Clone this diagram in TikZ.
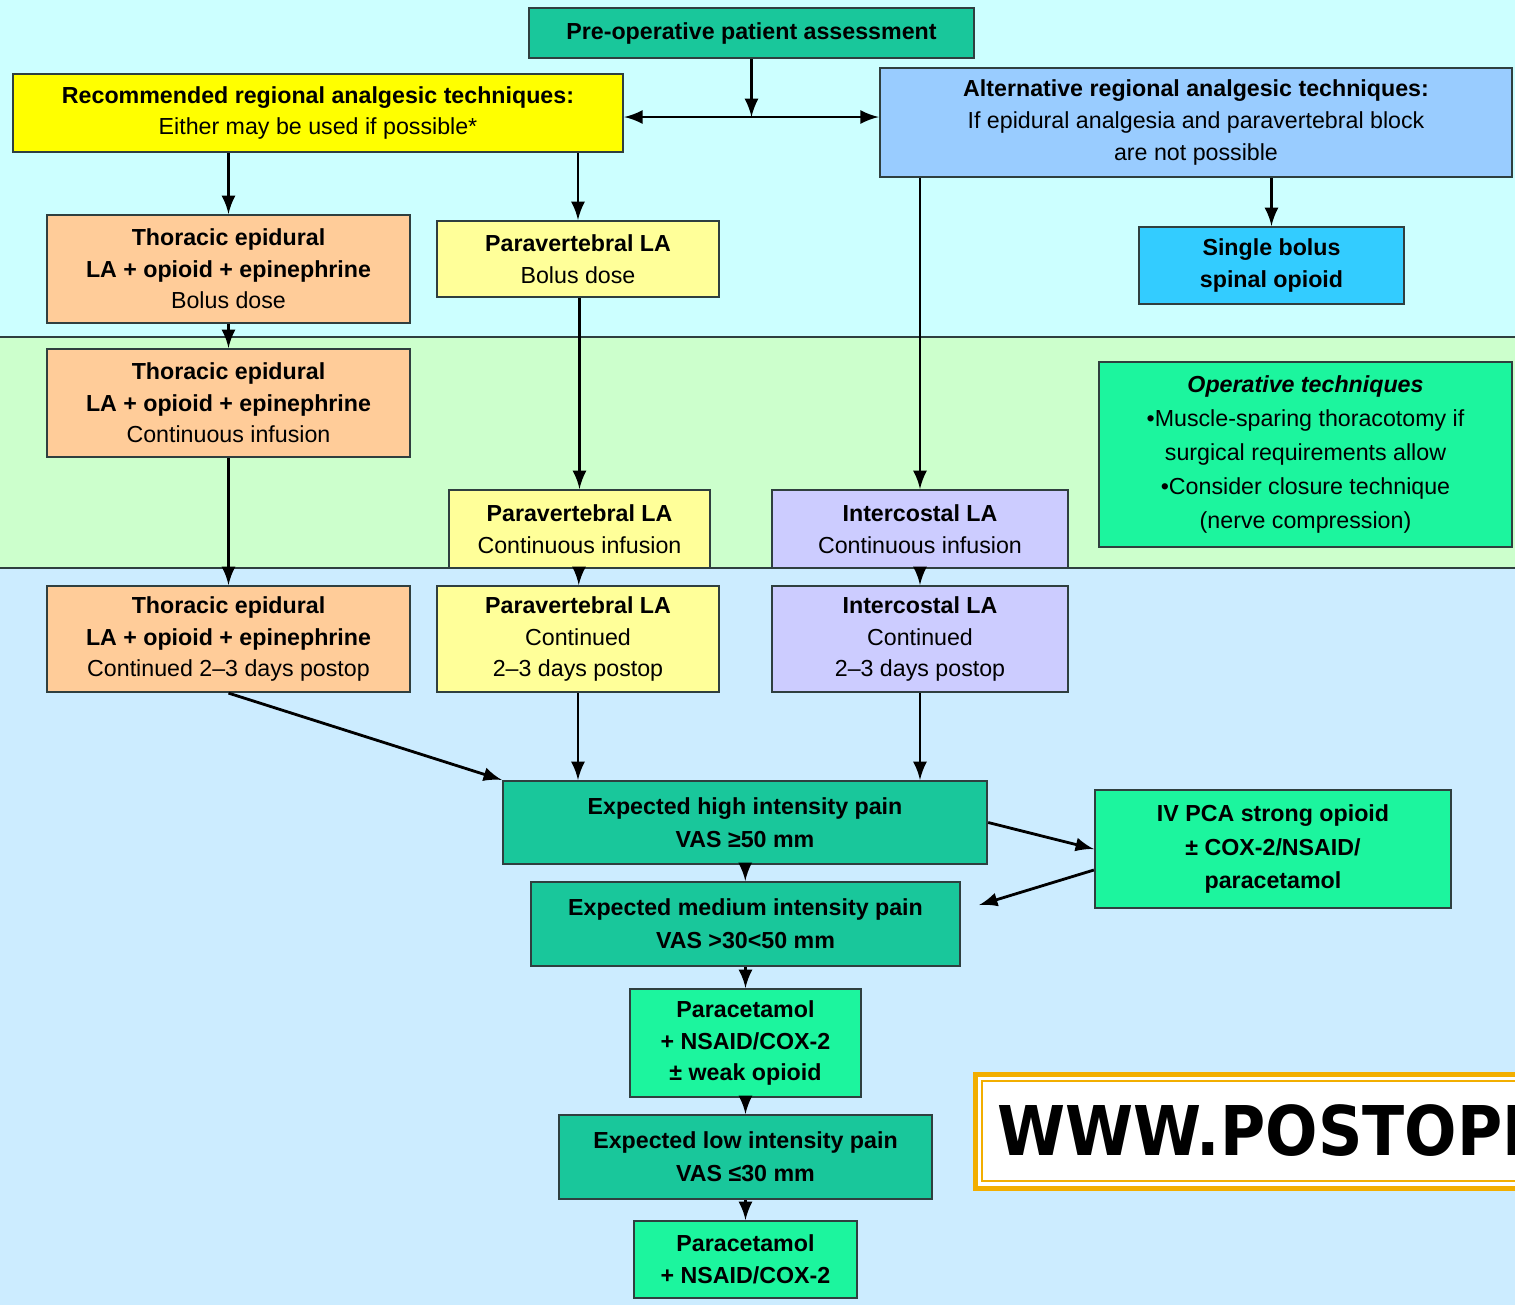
\documentclass[tikz,border=0pt]{standalone}
\usepackage{fontspec}
\setmainfont{Liberation Sans}
\newfontfamily\sitefont[FakeStretch=0.9]{DejaVu Sans}
\usetikzlibrary{arrows}
\definecolor{bgtop}{HTML}{CCFFFF}
\definecolor{bgmid}{HTML}{CCFFCC}
\definecolor{bgbot}{HTML}{CCECFF}
\definecolor{teal}{HTML}{19C79B}
\definecolor{mint}{HTML}{1CF59E}
\definecolor{recyellow}{HTML}{FFFF00}
\definecolor{paleyellow}{HTML}{FFFF99}
\definecolor{peach}{HTML}{FFCC99}
\definecolor{lavender}{HTML}{CCCCFF}
\definecolor{altblue}{HTML}{99CCFF}
\definecolor{skyblue}{HTML}{33CCFF}
\definecolor{boxline}{HTML}{2F3F3F}
\definecolor{siteorange}{HTML}{F2AE00}

\begin{document}
\begin{tikzpicture}[x=0.01cm,y=-0.01cm,>=latex,
  box/.style={draw=boxline,line width=0.6pt,align=center,inner sep=0pt,
    font=\fontsize{6.6}{9}\selectfont}]
\clip (0,0) rectangle (1515,1305);
% bands
\fill[bgtop] (0,0) rectangle (1515,337);
\fill[bgmid] (0,337) rectangle (1515,568);
\fill[bgbot] (0,568) rectangle (1515,1305);
\draw[boxline,line width=0.5pt] (0,337) -- (1515,337);
\draw[boxline,line width=0.5pt] (0,568) -- (1515,568);

% top row
\node[box,fill=teal,minimum width=4.45cm,minimum height=0.5cm] (pre) at (751.5,33) {\textbf{Pre-operative patient assessment}};
\node[box,fill=recyellow,minimum width=6.10cm,minimum height=0.78cm] (rec) at (318,113) {\textbf{Recommended regional analgesic techniques:}\\Either may be used if possible*};
\node[box,fill=altblue,minimum width=6.32cm,minimum height=1.09cm] (alt) at (1196,122.5) {\textbf{Alternative regional analgesic techniques:}\\If epidural analgesia and paravertebral block\\are not possible};

\node[box,fill=peach,minimum width=3.63cm,minimum height=1.08cm] (te1) at (228.5,269) {\textbf{Thoracic epidural}\\\textbf{LA + opioid + epinephrine}\\Bolus dose};
\node[box,fill=paleyellow,minimum width=2.82cm,minimum height=0.76cm] (pv1) at (578,259) {\textbf{Paravertebral LA}\\Bolus dose};
\node[box,fill=skyblue,minimum width=2.65cm,minimum height=0.77cm] (sbs) at (1271.5,265.5) {\textbf{Single bolus}\\\textbf{spinal opioid}};

% middle band
\node[box,fill=peach,minimum width=3.63cm,minimum height=1.08cm] (te2) at (228.5,403) {\textbf{Thoracic epidural}\\\textbf{LA + opioid + epinephrine}\\Continuous infusion};
\node[box,fill=mint,minimum width=4.13cm,minimum height=1.85cm,font=\fontsize{6.6}{9.6}\selectfont] (op) at (1305.5,454.5) {\textbf{\textit{Operative techniques}}\\•Muscle-sparing thoracotomy if\\surgical requirements allow\\•Consider closure technique\\(nerve compression)};
\node[box,fill=paleyellow,minimum width=2.61cm,minimum height=0.78cm] (pv2) at (579.5,529) {\textbf{Paravertebral LA}\\Continuous infusion};
\node[box,fill=lavender,minimum width=2.96cm,minimum height=0.78cm] (ic1) at (920,529) {\textbf{Intercostal LA}\\Continuous infusion};

% postop row
\node[box,fill=peach,minimum width=3.63cm,minimum height=1.06cm] (te3) at (228.5,639) {\textbf{Thoracic epidural}\\\textbf{LA + opioid + epinephrine}\\Continued 2–3 days postop};
\node[box,fill=paleyellow,minimum width=2.82cm,minimum height=1.06cm] (pv3) at (578,639) {\textbf{Paravertebral LA}\\Continued\\2–3 days postop};
\node[box,fill=lavender,minimum width=2.96cm,minimum height=1.06cm] (ic3) at (920,639) {\textbf{Intercostal LA}\\Continued\\2–3 days postop};

% pain levels
\node[box,fill=teal,minimum width=4.84cm,minimum height=0.83cm,font=\bfseries\fontsize{6.6}{9.4}\selectfont] (high) at (745,822.5) {Expected high intensity pain\\VAS ≥50 mm};
\node[box,fill=mint,minimum width=3.56cm,minimum height=1.18cm,font=\bfseries\fontsize{6.6}{9.6}\selectfont] (ivpca) at (1273,849) {IV PCA strong opioid\\± COX-2/NSAID/\\paracetamol};
\node[box,fill=teal,minimum width=4.29cm,minimum height=0.84cm,font=\bfseries\fontsize{6.6}{9.4}\selectfont] (med) at (745.5,924) {Expected medium intensity pain\\VAS >30<50 mm};
\node[box,fill=mint,minimum width=2.31cm,minimum height=1.08cm,font=\bfseries\fontsize{6.6}{9}\selectfont] (para1) at (745.5,1043) {Paracetamol\\+ NSAID/COX-2\\± weak opioid};
\node[box,fill=teal,minimum width=3.73cm,minimum height=0.84cm,font=\bfseries\fontsize{6.6}{9.4}\selectfont] (low) at (745.5,1157) {Expected low intensity pain\\VAS ≤30 mm};
\node[box,fill=mint,minimum width=2.23cm,minimum height=0.77cm,font=\bfseries\fontsize{6.6}{9}\selectfont] (para2) at (745.5,1259.5) {Paracetamol\\+ NSAID/COX-2};

% arrows
\coordinate (split) at (pre.south |- 0,117);
\draw[thick,->] (pre.south) -- (split);
\draw[thick,->] (split) -- (rec.east |- split);
\draw[thick,->] (split) -- (alt.west |- split);
\draw[thick,->] (rec.south -| te1.north) -- (te1.north);
\draw[thick,->] (rec.south -| pv1.north) -- (pv1.north);
\draw[thick,->] (alt.south -| ic1.north) -- (ic1.north);
\draw[thick,->] (alt.south -| sbs.north) -- (sbs.north);
\draw[thick,->] (te1) -- (te2);
\draw[thick,->] (pv1.south -| pv2.north) -- (pv2.north);
\draw[thick,->] (te2) -- (te3);
\draw[thick,->] (pv2) -- (pv3);
\draw[thick,->] (ic1) -- (ic3);
\draw[thick,->] (te3.south) -- (high.north west);
\draw[thick,->] (pv3.south) -- (pv3.south |- high.north);
\draw[thick,->] (ic3.south) -- (ic3.south |- high.north);
\draw[thick,->] (high.east) -- (ivpca.west);
\draw[thick,->] ([yshift=-0.21cm]ivpca.west) -- ([xshift=0.18cm,yshift=0.19cm]med.east);
\draw[thick,->] (high) -- (med);
\draw[thick,->] (med) -- (para1);
\draw[thick,->] (para1) -- (low);
\draw[thick,->] (low) -- (para2);

% site banner
\draw[siteorange,line width=0.05cm,fill=white] (975,1074) rectangle (1540,1188);
\draw[siteorange,line width=0.3pt] (982,1081) rectangle (1540,1181);
\node[anchor=base west,inner sep=0pt,font=\sitefont\bfseries\fontsize{19.5}{22}\selectfont] (site) at (997,1155) {WWW.POSTOPP};
\end{tikzpicture}
\end{document}
